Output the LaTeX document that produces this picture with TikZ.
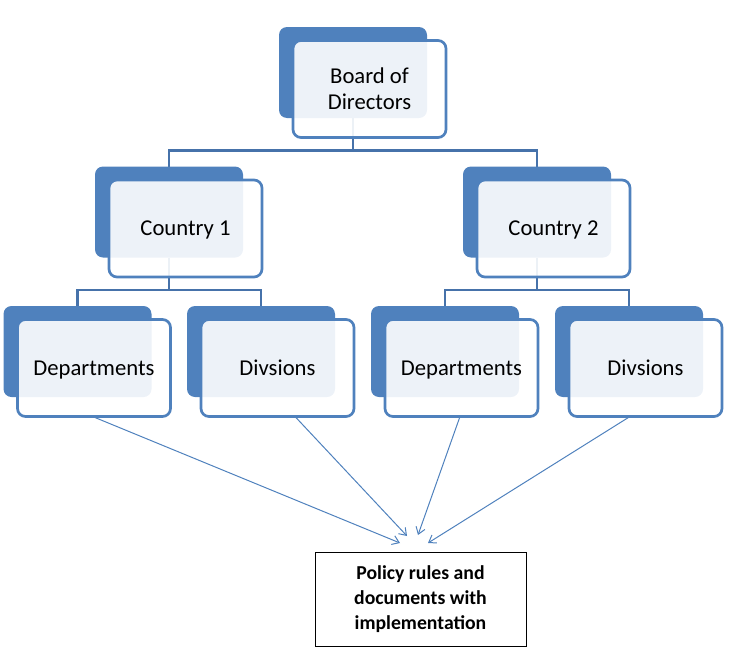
\documentclass[tikz,border=0pt]{standalone}
\usepackage{fontspec}
\setmainfont{Carlito}
\usepackage{tikz}
\usetikzlibrary{arrows.meta,calc,backgrounds}
\definecolor{boxblue}{HTML}{4F81BD}
\definecolor{linkblue}{HTML}{4672AA}
\newcommand\boxstrut{\rule[-4.35pt]{0pt}{19.5pt}}

\begin{document}
\begin{tikzpicture}[
  x=0.75pt, y=-0.75pt,
  back/.style={fill=boxblue, rounded corners=6pt, minimum width=111pt,
    minimum height=68.25pt, inner sep=0pt, outer sep=0pt},
  front/.style={draw=boxblue, line width=2pt, fill=white, fill opacity=0.9,
    text opacity=1, rounded corners=6pt, minimum width=114.75pt,
    minimum height=72.75pt, align=center, inner sep=0pt, outer sep=0pt,
    font=\fontsize{17}{19.5}\selectfont},
  link/.style={draw=linkblue, line width=2pt},
  feed/.style={draw=boxblue, line width=0.75pt,
    -{Straight Barb[length=5pt,width=7pt]}},
  policy/.style={draw=black, line width=0.75pt, minimum width=158.25pt,
    minimum height=70.5pt, align=center, inner sep=0pt,
    font=\bfseries\fontsize{14.8}{18.75}\selectfont}
]
\useasboundingbox (0,0) rectangle (736,650);
% boxes
\foreach \n/\x/\y/\t in {board/353/72.5/{Board of\\Directors},
    cty1/169/212/{Country 1}, cty2/537/212/{Country 2},
    dep1/77.5/351.5/{Departments}, div1/261/351.5/{Divsions},
    dep2/445/351.5/{Departments}, div2/629/351.5/{Divsions}} {
  \node[back] (\n-bk) at (\x,\y) {};
  \node[front] (\n) at ($(\n-bk)+(16.5,16.5)$) {\boxstrut\t\boxstrut};
}
% tree lines
\begin{scope}[on background layer]
\draw[link] (board-bk.south) -- ++(0,32);
\draw[link] (cty1-bk.north) -- ++(0,-16) -| (cty2-bk.north);
\draw[link] (cty1-bk.south) -- ++(0,32);
\draw[link] (dep1-bk.north) -- ++(0,-16) -| (div1-bk.north);
\draw[link] (cty2-bk.south) -- ++(0,32);
\draw[link] (dep2-bk.north) -- ++(0,-16) -| (div2-bk.north);
\end{scope}
% policy box
\node[policy] (policy) at (420.5,599) {Policy rules and\\documents with\\implementation};
\coordinate (in1) at (400,543);
\coordinate (in2) at (407,536);
\coordinate (in3) at (418,535);
\coordinate (in4) at (428,543);
\draw[feed] ($(dep1.south)+(-1.5,0)$) -- (in1);
\draw[feed] ($(div1.south)+(17.5,0)$) -- (in2);
\draw[feed] ($(dep2.south)+(-1.5,0)$) -- (in3);
\draw[feed] ($(div2.south)+(-15.5,0)$) -- (in4);
\end{tikzpicture}
\end{document}
